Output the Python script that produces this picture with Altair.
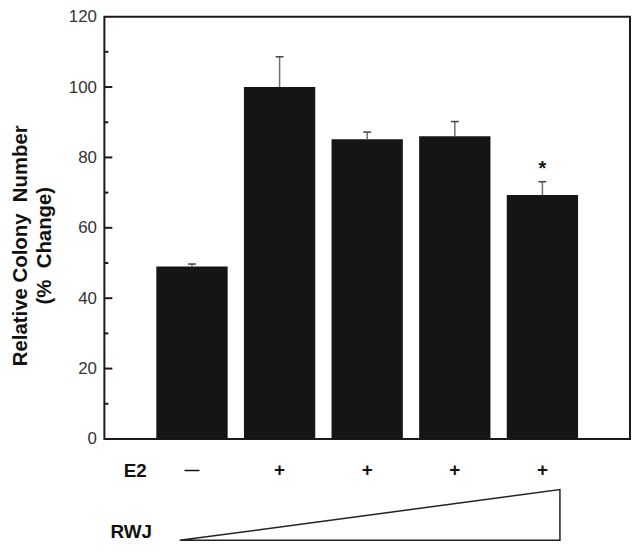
import altair as alt
import pandas as pd

# --- data ---
groups = [1, 2, 3, 4, 5]
e2_signs = ["—", "+", "+", "+", "+"]
means = [49.0, 100.0, 85.2, 86.0, 69.3]
errs = [0.7, 8.6, 2.0, 4.2, 3.8]
sig = ["", "", "", "", "*"]

y_labels = [0, 20, 40, 60, 80, 100, 120]
major_ticks = [20, 40, 60, 80, 100]
minor_ticks = [10, 30, 50, 70, 90, 110]

row_labels = ["E2", "RWJ"]
row_label_x = [31, 27]
row_label_y = [457.5, 519]

# RWJ wedge (increasing concentration)
wedge_x = [0.86, 5.2]
wedge_top = [-28.8, -14.4]
wedge_bottom = [-28.8, -28.8]

FONT = "Arial, Liberation Sans, sans-serif"
NB = "\u00a0"

df = pd.DataFrame({"g": groups, "sign": e2_signs, "mean": means, "err": errs, "sig": sig})
df["top"] = df["mean"] + df["err"]
df["c1"] = df["g"] - 0.045
df["c2"] = df["g"] + 0.045

majors = pd.DataFrame({"v": major_ticks})
minors = pd.DataFrame({"v": minor_ticks})
labels = pd.DataFrame({"t": row_labels, "x": row_label_x, "y": row_label_y})
wedge = pd.DataFrame({"x": wedge_x, "top": wedge_top, "bot": wedge_bottom})

xs = alt.Scale(domain=[0, 6], nice=False, zero=False)
ys = alt.Scale(domain=[0, 120], nice=False)

base = alt.Chart(df)

bars = base.transform_calculate(
    x1="datum.g - 0.407", x2="datum.g + 0.407"
).mark_bar(color="#151515", clip=False).encode(
    x=alt.X("x1:Q", scale=xs, axis=None),
    x2="x2:Q",
    y=alt.Y("mean:Q", scale=ys, axis=alt.Axis(
        values=y_labels, tickSize=0, ticks=False, domain=False, grid=False,
        labelPadding=8, labelFont=FONT, labelFontSize=17, labelColor="#333333",
        labelFlush=False,
        title=["Relative Colony " + NB + "Number", "(% " + NB + "Change)"],
        titleFont=FONT, titleFontSize=20.5, titleFontWeight="bold", titleColor="#111111",
        titleX=-84, titleY=230, titleAngle=270, titleAlign="center",
        titleBaseline="middle", titleLineHeight=24,
    )),
    y2=alt.datum(0),
)

err_line = base.mark_rule(color="#6e6e6e", strokeWidth=1.5, clip=False).encode(
    x=alt.X("g:Q", scale=xs), y=alt.Y("mean:Q", scale=ys), y2="top:Q"
)
err_cap = base.mark_rule(color="#444444", strokeWidth=1.5, clip=False).encode(
    x=alt.X("c1:Q", scale=xs), x2="c2:Q", y=alt.Y("top:Q", scale=ys)
)
star = base.mark_text(font=FONT, fontSize=20, fontWeight="bold", dy=-7,
                      baseline="alphabetic", color="#111111", clip=False).encode(
    x=alt.X("g:Q", scale=xs), y=alt.Y("top:Q", scale=ys), text="sig:N"
)
signs = base.mark_text(font=FONT, fontWeight="bold", baseline="middle",
                       color="#111111", clip=False).encode(
    x=alt.X("g:Q", scale=xs), y=alt.value(456), text="sign:N",
    size=alt.condition("datum.sign == '—'", alt.value(15), alt.value(19)),
)

major = alt.Chart(majors).mark_rule(color="#1a1a1a", strokeWidth=2).encode(
    x=alt.value(0), x2=alt.value(8), y=alt.Y("v:Q", scale=ys)
)
minor = alt.Chart(minors).mark_rule(color="#1a1a1a", strokeWidth=2).encode(
    x=alt.value(0), x2=alt.value(4), y=alt.Y("v:Q", scale=ys)
)

row_text = alt.Chart(labels).mark_text(font=FONT, fontSize=19, fontWeight="bold",
                                       baseline="middle", align="center",
                                       color="#111111", clip=False).encode(
    x=alt.X("x:Q", scale=None), y=alt.Y("y:Q", scale=None), text="t:N"
)

wedge_mark = alt.Chart(wedge).mark_area(fill="white", stroke="#222222", strokeWidth=1.5,
                                        clip=False).encode(
    x=alt.X("x:Q", scale=xs), y=alt.Y("top:Q", scale=ys), y2="bot:Q"
)

chart = alt.layer(bars, err_line, err_cap, star, major, minor, signs, row_text, wedge_mark).properties(
    width=529, height=425,
    autosize=alt.AutoSizeParams(type="none"),
    padding={"left": 97, "top": 7, "right": 2, "bottom": 104},
).configure_view(stroke="#1a1a1a", strokeWidth=2)

chart.save("out.html", embed_options={"renderer": "svg", "actions": False})
